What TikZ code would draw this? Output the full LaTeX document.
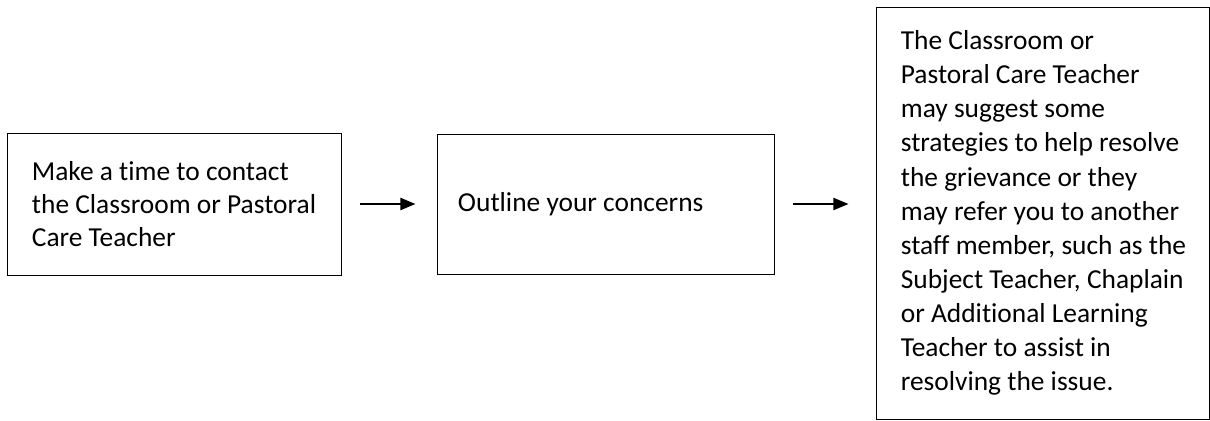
\documentclass[tikz,border=0pt]{standalone}
\usepackage{fontspec}
\setmainfont{Carlito}[Ligatures=NoCommon]
\usepackage{tikz}
\usetikzlibrary{arrows.meta, positioning}

\begin{document}
\begin{tikzpicture}
  % Fixed frame of the picture
  \useasboundingbox (0,0) rectangle (30.25,10.5);

  % Steps of the procedure
  \node[rectangle, draw, line width=0.7pt, minimum width=8.35cm, minimum height=3.55cm, align=left, inner xsep=0pt, font=\fontsize{19.5}{23.5}\selectfont] (contact) at (4.35,5.4) {Make a time to contact\\the Classroom or Pastoral\\Care Teacher};
  \node[rectangle, draw, line width=0.7pt, minimum width=8.4cm, minimum height=3.5cm, text width=7.4cm, align=flush left, inner xsep=0.5cm, font=\fontsize{19.5}{23.5}\selectfont, right=2.4cm of contact] (concerns) {Outline your concerns};
  \node[rectangle, draw, line width=0.7pt, minimum width=8.325cm, minimum height=10.3cm, align=left, inner xsep=0pt, font=\fontsize{19.5}{24.3}\selectfont, right=2.55cm of concerns, yshift=-0.225cm] (teacher) {The Classroom or\\Pastoral Care Teacher\\may suggest some\\strategies to help resolve\\the grievance or they\\may refer you to another\\staff member, such as the\\Subject Teacher, Chaplain\\or Additional Learning\\Teacher to assist in\\resolving the issue.};

  % Arrows between boxes
  \draw[-{Triangle[length=0.375cm, width=0.3cm]}, line width=1.4pt, shorten <=0.475cm, shorten >=0.55cm] (contact.east) -- (concerns.west);
  \draw[-{Triangle[length=0.375cm, width=0.3cm]}, line width=1.4pt, shorten <=0.475cm, shorten >=0.7cm] (concerns.east) -- (concerns.east -| teacher.west);
\end{tikzpicture}
\end{document}
